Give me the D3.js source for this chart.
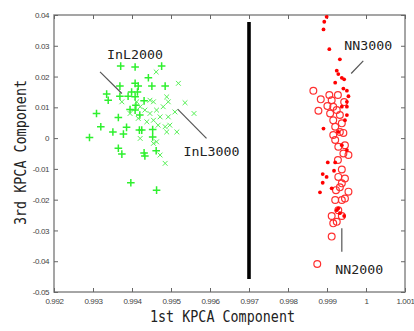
<!DOCTYPE html>
<html>
<head>
<meta charset="utf-8">
<script src="https://cdn.jsdelivr.net/npm/d3@7/dist/d3.min.js"></script>
<style>
  html, body { margin: 0; padding: 0; background: #fff; }
  svg { display: block; }
</style>
</head>
<body>
<svg id="chart" width="414" height="331"></svg>
<script>
// InL2000 ("+") points [x, y]
const inl2000 = [
  [0.99371, 0.0234], [0.99408, 0.0231], [0.99476, 0.0234], [0.99442, 0.0196],
  [0.99369, 0.0169], [0.99408, 0.0178], [0.99416, 0.0169], [0.99451, 0.0169],
  [0.99485, 0.0169], [0.99335, 0.0143], [0.99339, 0.0123], [0.99369, 0.0136],
  [0.99399, 0.0150], [0.99408, 0.0134], [0.99414, 0.0150], [0.99431, 0.0121],
  [0.99395, 0.0093], [0.99410, 0.0107], [0.99309, 0.0080], [0.99365, 0.0067],
  [0.99320, 0.0037], [0.99351, 0.0020], [0.99378, 0.0013], [0.99386, 0.0035],
  [0.99419, 0.0026], [0.99291, 0.0002], [0.99365, -0.0033], [0.99374, -0.0052],
  [0.99431, -0.0048], [0.99433, -0.0058], [0.99462, -0.0041], [0.99397, -0.0145],
  [0.99463, -0.0169], [0.99453, 0.0028], [0.99425, 0.0026], [0.99453, 0.0004],
  [0.99408, 0.0091], [0.99390, 0.0136], [0.99420, 0.0075]
];

// InL3000 ("x") points
const inl3000 = [
  [0.99462, 0.0215], [0.99519, 0.0178], [0.99536, 0.0115], [0.99559, 0.0080],
  [0.99489, 0.0134], [0.99493, 0.0118], [0.99480, 0.0102], [0.99463, 0.0091],
  [0.99446, 0.0080], [0.99472, 0.0069], [0.99493, 0.0069], [0.99510, 0.0085],
  [0.99497, 0.0042], [0.99485, 0.0037], [0.99515, 0.0020], [0.99489, 0.0020],
  [0.99438, 0.0053], [0.99416, 0.0064], [0.99433, 0.0091], [0.99455, -0.0017],
  [0.99463, -0.0012], [0.99472, -0.0055], [0.99485, -0.0082], [0.99412, 0.0118],
  [0.99374, 0.0118], [0.99421, 0.0102], [0.99455, 0.0058], [0.99467, 0.0042],
  [0.99421, -0.0001], [0.99455, 0.0118], [0.99395, 0.0080], [0.99446, 0.0123]
];

// NN2000 (open circle) points
const nn2000 = [
  [0.99865, 0.0154], [0.99884, 0.0126], [0.99878, 0.0089], [0.99906, 0.0140],
  [0.99912, 0.0123], [0.99901, 0.0104], [0.99916, 0.0102], [0.99925, 0.0091],
  [0.99908, 0.0080], [0.99933, 0.0075], [0.99916, 0.0058], [0.99938, 0.0048],
  [0.99921, 0.0037], [0.99933, 0.0020], [0.99916, 0.0010], [0.99921, -0.0006],
  [0.99942, 0.0017], [0.99929, -0.0028], [0.99946, -0.0023], [0.99942, -0.0050],
  [0.99955, -0.0055], [0.99938, -0.0102], [0.99929, -0.0126], [0.99946, -0.0131],
  [0.99938, -0.0147], [0.99933, -0.0160], [0.99955, -0.0174], [0.99921, -0.0201],
  [0.99938, -0.0201], [0.99946, -0.0196], [0.99929, -0.0234], [0.99912, -0.0253],
  [0.99938, -0.0253], [0.99916, -0.0277], [0.99925, -0.0272], [0.99912, -0.0320],
  [0.99875, -0.0409], [0.99928, 0.0140], [0.99944, 0.0117], [0.99928, -0.0071],
  [0.99923, -0.0169]
];

// NN3000 (filled dot) points
const nn3000 = [
  [0.99899, 0.0394], [0.99893, 0.0378], [0.99891, 0.0353], [0.99906, 0.0289],
  [0.99933, 0.0256], [0.99925, 0.0219], [0.99929, 0.0208], [0.99938, 0.0196],
  [0.99944, 0.0191], [0.99921, 0.0180], [0.99942, 0.0161], [0.99951, 0.0154],
  [0.99955, 0.0136], [0.99951, 0.0118], [0.99891, 0.0031], [0.99938, 0.0102],
  [0.99951, 0.0102], [0.99951, 0.0075], [0.99946, 0.0058], [0.99929, 0.0020],
  [0.99902, -0.0079], [0.99921, -0.0079], [0.99889, -0.0117], [0.99899, -0.0126],
  [0.99889, -0.0145], [0.99918, -0.0106], [0.99912, -0.0163], [0.99882, -0.0176],
  [0.99938, -0.0023], [0.99951, -0.0039], [0.99929, -0.0228], [0.99933, -0.0244],
  [0.99944, -0.0253], [0.99925, -0.0234]
];

// divider between the two groups
const divider = [[0.997, 0.0377], [0.997, -0.0458]];

const xTicks = [0.992, 0.993, 0.994, 0.995, 0.996, 0.997, 0.998, 0.999, 1, 1.001];
const xTickLabels = ['0.992', '0.993', '0.994', '0.995', '0.996', '0.997', '0.998', '0.999', '1', '1.001'];
const yTicks = [0.04, 0.03, 0.02, 0.01, 0, -0.01, -0.02, -0.03, -0.04, -0.05];
const yTickLabels = ['0.04', '0.03', '0.02', '0.01', '0', '-0.01', '-0.02', '-0.03', '-0.04', '-0.05'];

// annotation labels: text anchor point and pointer line, in data units
const notes = [
  {text: 'InL2000', at: [0.99336, 0.0256], line: [[0.99318, 0.0215], [0.99374, 0.0145]]},
  {text: 'InL3000', at: [0.99532, -0.0058], line: [[0.99517, 0.0094], [0.99591, -0.0001]]},
  {text: 'NN3000', at: [0.99944, 0.0286], line: [[0.99993, 0.0251], [0.99962, 0.0210]]},
  {text: 'NN2000', at: [0.99921, -0.0440], line: [[0.99938, -0.0293], [0.99938, -0.0369]]}
];

const svg = d3.select('#chart');
const x = d3.scaleLinear().domain([0.992, 1.001]).range([54, 405]);
const y = d3.scaleLinear().domain([-0.05, 0.04]).range([292, 15]);

const tickFont = '"Liberation Sans", Arial, sans-serif';
const monoFont = '"DejaVu Sans Mono", "Liberation Mono", monospace';

// box
svg.append('rect')
  .attr('x', x.range()[0]).attr('y', y.range()[1])
  .attr('width', x.range()[1] - x.range()[0])
  .attr('height', y.range()[0] - y.range()[1])
  .attr('fill', 'none').attr('stroke', '#888').attr('stroke-width', 1.5);

// axes with inward ticks
const axisB = svg.append('g').attr('transform', `translate(0,${y.range()[0]})`)
  .call(d3.axisBottom(x).tickValues(xTicks).tickSizeInner(-4).tickSizeOuter(0)
    .tickFormat((d, i) => xTickLabels[i]));
const axisT = svg.append('g').attr('transform', `translate(0,${y.range()[1]})`)
  .call(d3.axisTop(x).tickValues(xTicks).tickSizeInner(-4).tickSizeOuter(0).tickFormat(''));
const axisL = svg.append('g').attr('transform', `translate(${x.range()[0]},0)`)
  .call(d3.axisLeft(y).tickValues(yTicks).tickSizeInner(-4).tickSizeOuter(0)
    .tickFormat((d, i) => yTickLabels[i]));
const axisR = svg.append('g').attr('transform', `translate(${x.range()[1]},0)`)
  .call(d3.axisRight(y).tickValues(yTicks).tickSizeInner(-4).tickSizeOuter(0).tickFormat(''));

[axisB, axisT, axisL, axisR].forEach(a => {
  a.select('.domain').remove();
  a.selectAll('.tick line').attr('stroke', '#666');
  a.selectAll('.tick text')
    .attr('font-family', tickFont).attr('font-size', 8)
    .attr('letter-spacing', -0.4).attr('fill', '#444');
});
axisB.selectAll('.tick text').attr('y', 6);
axisL.selectAll('.tick text').attr('x', -5);

// divider line
svg.append('line')
  .attr('x1', x(divider[0][0])).attr('y1', y(divider[0][1]))
  .attr('x2', x(divider[1][0])).attr('y2', y(divider[1][1]))
  .attr('stroke', '#000').attr('stroke-width', 3.6);

// InL2000 plus markers
svg.append('g').selectAll('path').data(inl2000).enter().append('path')
  .attr('d', d => {
    const cx = x(d[0]), cy = y(d[1]), s = 3.8;
    return `M${cx - s},${cy}H${cx + s}M${cx},${cy - s}V${cy + s}`;
  })
  .attr('stroke', '#2ef02e').attr('stroke-width', 1.5).attr('fill', 'none');

// InL3000 cross markers
svg.append('g').selectAll('path').data(inl3000).enter().append('path')
  .attr('d', d => {
    const cx = x(d[0]), cy = y(d[1]), s = 2.4;
    return `M${cx - s},${cy - s}L${cx + s},${cy + s}M${cx - s},${cy + s}L${cx + s},${cy - s}`;
  })
  .attr('stroke', '#55f055').attr('stroke-width', 1).attr('fill', 'none');

// NN2000 circles
svg.append('g').selectAll('circle').data(nn2000).enter().append('circle')
  .attr('cx', d => x(d[0])).attr('cy', d => y(d[1])).attr('r', 3.4)
  .attr('fill', 'none').attr('stroke', '#ff3030').attr('stroke-width', 1.2);

// NN3000 dots
svg.append('g').selectAll('circle').data(nn3000).enter().append('circle')
  .attr('cx', d => x(d[0])).attr('cy', d => y(d[1])).attr('r', 1.9)
  .attr('fill', '#ff0000');

// annotations
const ng = svg.append('g');
notes.forEach(n => {
  ng.append('line')
    .attr('x1', x(n.line[0][0])).attr('y1', y(n.line[0][1]))
    .attr('x2', x(n.line[1][0])).attr('y2', y(n.line[1][1]))
    .attr('stroke', '#555').attr('stroke-width', 1.2);
  ng.append('text')
    .attr('x', x(n.at[0])).attr('y', y(n.at[1]))
    .attr('font-family', monoFont).attr('font-size', 13)
    .attr('textLength', n.text.length * 8).attr('lengthAdjust', 'spacingAndGlyphs')
    .attr('fill', '#222')
    .text(n.text);
});

// axis titles
svg.append('text')
  .attr('x', 150).attr('y', 322)
  .attr('font-family', monoFont).attr('font-size', 15)
  .attr('textLength', 145).attr('lengthAdjust', 'spacingAndGlyphs')
  .attr('fill', '#222')
  .text('1st KPCA Component');

svg.append('text')
  .attr('transform', 'translate(26,225) rotate(-90)')
  .attr('font-family', monoFont).attr('font-size', 15)
  .attr('textLength', 145).attr('lengthAdjust', 'spacingAndGlyphs')
  .attr('fill', '#222')
  .text('3rd KPCA Component');
</script>
</body>
</html>
